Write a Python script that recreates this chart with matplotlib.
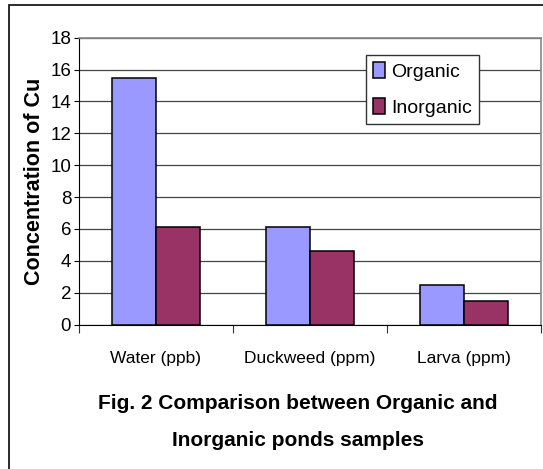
import numpy as np
import matplotlib.pyplot as plt
from matplotlib.patches import Rectangle

plt.rcParams['font.family'] = ['Liberation Sans', 'DejaVu Sans']

categories = ['Water (ppb)', 'Duckweed (ppm)', 'Larva (ppm)']
organic = [15.5, 6.1, 2.45]
inorganic = [6.1, 4.6, 1.45]

W, H = 543, 469
fig = plt.figure(figsize=(W / 100, H / 100), dpi=100)
ax = fig.add_axes([79 / W, 1 - 324.5 / H, 462 / W, 286.8 / H])

# Rahmen um die Grafik (rechts und unten abgeschnitten)
fig.patches.append(Rectangle((8.5 / W, -0.05), 1.1, 1 - 5 / H + 0.05,
                             transform=fig.transFigure, fill=False,
                             edgecolor='#1a1a1a', linewidth=1.3))

x = np.arange(len(categories))
bw = 44 / 154
ax.bar(x - bw / 2, organic, bw, color='#9999FF', edgecolor='black',
       linewidth=1.1, label='Organic', zorder=3)
ax.bar(x + bw / 2, inorganic, bw, color='#993366', edgecolor='black',
       linewidth=1.1, label='Inorganic', zorder=3)

ax.set_xlim(-0.5, 2.5)
ax.set_ylim(0, 18)
ax.set_yticks(np.arange(0, 19, 2))
ax.tick_params(axis='y', labelsize=13.5, length=3.6, width=0.8, pad=2)
ax.set_xticks([-0.5, 0.5, 1.5, 2.5])
ax.set_xticklabels([])
ax.set_xticks(x, minor=True)
ax.set_xticklabels(categories, minor=True)
ax.tick_params(axis='x', which='major', length=5.8, width=0.8, color='#333333')
ax.tick_params(axis='x', which='minor', length=0, labelsize=12.5, pad=19)

ax.grid(axis='y', color='#444444', linewidth=0.9, zorder=0)
for s in ['top', 'right']:
    ax.spines[s].set_color('#888888')
    ax.spines[s].set_linewidth(1.2)
ax.spines['left'].set_color('black')
ax.spines['bottom'].set_color('black')

ax.set_ylabel('Concentration of Cu', fontsize=15.5, fontweight='bold', labelpad=4)

leg = ax.legend(loc='upper left', bbox_to_anchor=(366 / W, 1 - 55 / H),
                bbox_transform=fig.transFigure,
                prop={'size': 14}, frameon=True, fancybox=False, edgecolor='#333333',
                framealpha=1, handlelength=0.65, handleheight=0.9, handletextpad=0.3,
                borderpad=0.35, labelspacing=0.9, borderaxespad=0)
leg.get_frame().set_linewidth(1.0)
for p in leg.get_patches():
    p.set_edgecolor('black')
    p.set_linewidth(1.1)

fig.text(298 / W, 1 - 409 / H, 'Fig. 2 Comparison between Organic and',
         ha='center', va='baseline', fontsize=15, fontweight='bold')
fig.text(298 / W, 1 - 445.7 / H, 'Inorganic ponds samples',
         ha='center', va='baseline', fontsize=15, fontweight='bold')

fig.savefig('out.png', dpi=100)
